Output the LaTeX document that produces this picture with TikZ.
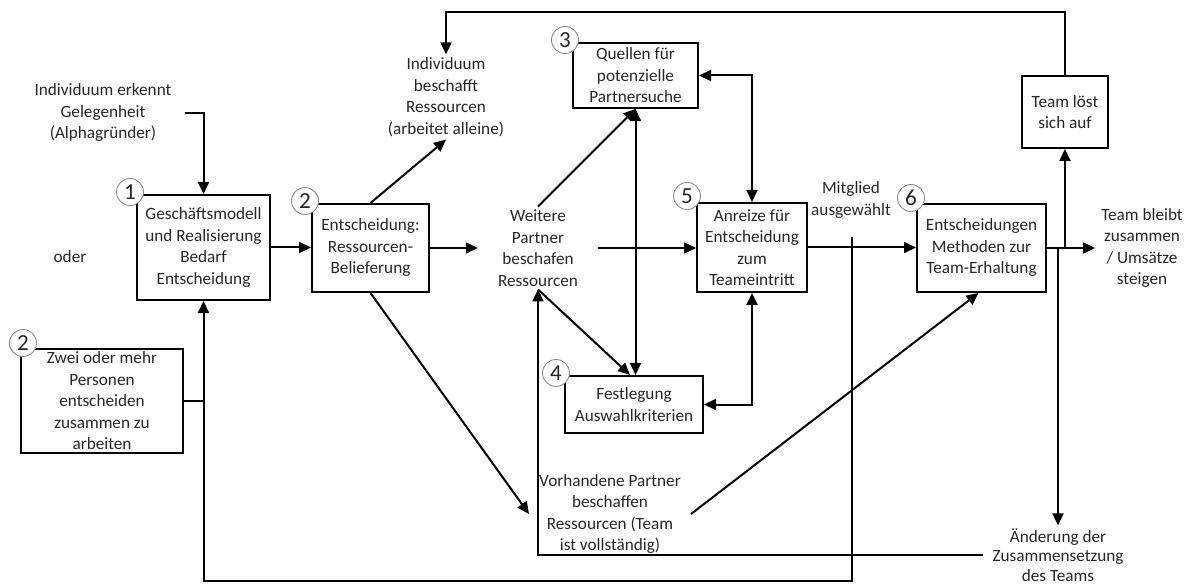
\documentclass[tikz,border=0pt]{standalone}
\usepackage{fontspec}
\setmainfont{Carlito}
\usetikzlibrary{arrows.meta,positioning}

\begin{document}
\begin{tikzpicture}[x=1pt, y=-1pt,
    font=\fontsize{17.2}{21.5}\selectfont, text=black!85,
    box/.style={draw=black, line width=2pt, align=center, inner sep=2pt},
    txt/.style={align=center, inner sep=3pt},
    num/.style={circle, draw=black!45, line width=0.9pt, fill=white, inner sep=0pt,
        minimum size=27pt, font=\fontsize{23}{23}\selectfont},
    line/.style={line width=2pt},
    arr/.style={line width=2pt, -{Triangle[length=12pt,width=11pt]}},
    arrs/.style={line width=2pt, {Triangle[length=12pt,width=11pt]}-{Triangle[length=12pt,width=11pt]}}]

    \clip (0,0) rectangle (1192,585);

    %% Decision boxes

    % Start
    \node[box, minimum width=133pt, minimum height=105pt] (b1) at (203.5,247.5)
        {Geschäftsmodell\\und Realisierung\\Bedarf\\Entscheidung};
    \node[box, minimum width=162pt, minimum height=104pt] (zwei) at (102,401)
        {Zwei oder mehr\\Personen\\entscheiden\\zusammen zu\\arbeiten};
    \node[box, minimum width=117pt, minimum height=88pt] (b2) at (370.5,248)
        {Entscheidung:\\Ressourcen-\\Belieferung};

    % Partner search
    \node[box, minimum width=125pt, minimum height=65pt] (b3) at (635.5,75.5)
        {Quellen für\\potenzielle\\Partnersuche};
    \node[box, minimum width=138pt, minimum height=57pt] (b4) at (634,404.5)
        {Festlegung\\Auswahlkriterien};
    \node[box, minimum width=110pt, minimum height=89pt] (b5) at (752,247.5)
        {Anreize für\\Entscheidung\\zum\\Teameintritt};

    % Team
    \node[box, minimum width=129pt, minimum height=88pt] (b6) at (981.5,248)
        {Entscheidungen\\Methoden zur\\Team-Erhaltung};
    \node[box, minimum width=86pt, minimum height=72pt] (b7) at (1065,112)
        {Team löst\\sich auf};

    %% Free texts
    \node[txt] (alpha) at (103,113) {Individuum erkennt\\Gelegenheit\\(Alphagründer)};
    \node[txt] (oder) at (70,257) {oder};
    \node[txt] (alone) at (446,97) {Individuum\\beschafft\\Ressourcen\\(arbeitet alleine)};
    \node[txt, minimum width=120pt] (weitere) at (538,248) {Weitere\\Partner\\beschafen\\Ressourcen};
    \node[txt] (mitglied) at (851,200) {Mitglied\\ausgewählt};
    \node[txt, inner xsep=10pt] (vorh) at (610,514)
        {Vorhandene Partner\\beschaffen\\Ressourcen (Team\\ist vollständig)};
    \node[txt, inner xsep=6pt] (stays) at (1142,248) {Team bleibt\\zusammen\\/ Umsätze\\steigen};
    \node[txt, inner xsep=9pt, font=\fontsize{17.2}{19.5}\selectfont] (change) at (1058,555)
        {Änderung der\\Zusammensetzung\\des Teams};

    % Helpers for the loops
    \coordinate (mfoot) at (852,237);
    \coordinate (top) at (0,12);
    \coordinate (bottom) at (0,581);

    %% Connectors
    \draw[arr] ([xshift=10pt]alpha.east) -| (b1.north);
    \draw[line] (zwei.east) -- (zwei.east -| b1.south);
    \draw[arr] (mfoot) -- (mfoot |- bottom) -| (b1.south);
    \draw[arr] (b1.east) -- (b1.east -| b2.west);
    \draw[arr] (b2.north) -- (alone.south);
    \draw[arr] (b2.east) -- (b2.east -| weitere.west);
    \draw[arr] (b2.south) -- (vorh.west);
    \draw[arr] (weitere.north) -- (b3.south);
    \draw[arrs] (b3.south) -- (b3.south |- b4.north);
    \draw[arr] (weitere.south) -- ([xshift=-4pt]b4.north);
    \draw[arr] (change.west) -| (weitere.south);
    \draw[arr] (weitere.east) -- (weitere.east -| b5.west);
    \draw[arrs] (b3.east) -| (b5.north);
    \draw[arrs] (b5.south) |- (b4.east);
    \draw[arr] (b5.east) -- (b5.east -| b6.west);
    \draw[arr] (vorh.east) -- ([xshift=-3pt]b6.south);
    \draw[arr] (b6.east) -- (b6.east -| stays.west);
    \draw[arr] (b7.south |- b6.east) -- (b7.south);
    \draw[arr] (change.north |- b6.east) -- (change.north);
    \draw[arr] (b7.north) -- (b7.north |- top) -| (alone.north);

    %% Step numbers
    \node[num] (n1) at ([shift={(-6,-2)}]b1.north west) {1};
    \node[num] (n2) at ([shift={(-6,-2)}]b2.north west) {2};
    \node[num] (n2b) at ([shift={(3,-5)}]zwei.north west) {2};
    \node[num] (n3) at ([shift={(-7,-2)}]b3.north west) {3};
    \node[num] (n4) at ([shift={(-8,-2)}]b4.north west) {4};
    \node[num] (n5) at ([shift={(-9,-6)}]b5.north west) {5};
    \node[num] (n6) at ([shift={(-5,-5)}]b6.north west) {6};

\end{tikzpicture}
\end{document}
